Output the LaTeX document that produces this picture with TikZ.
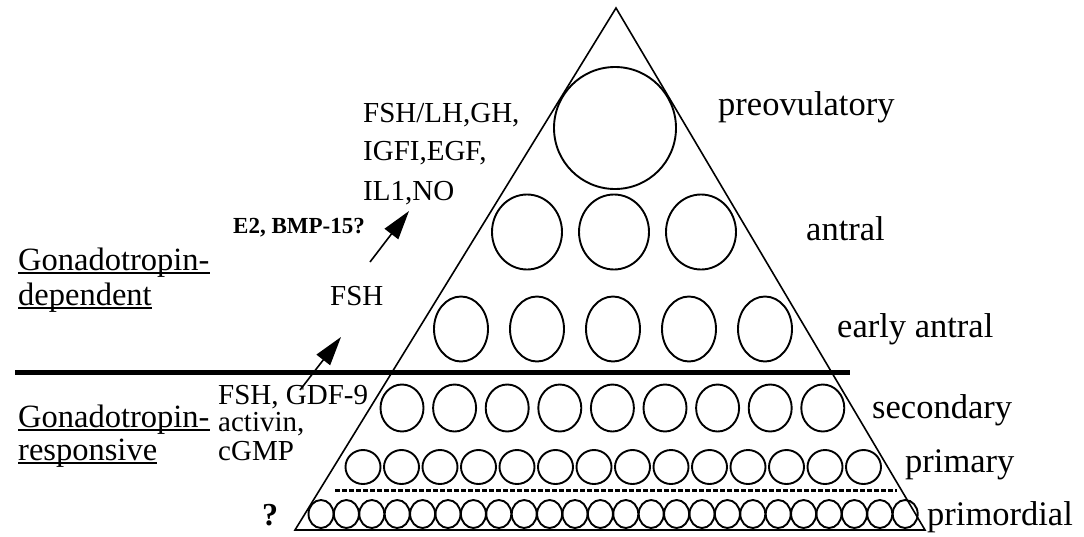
\documentclass[tikz,border=0pt]{standalone}
\usepackage{fontspec}
\setmainfont{Liberation Serif}
\usetikzlibrary{arrows.meta}

\begin{document}
\begin{tikzpicture}[x=1pt,y=-1pt,
  follicle/.style={draw, line width=1.9pt},
  stage/.style={anchor=base west, inner sep=0pt, font=\fontsize{34.5}{37}\selectfont},
  factor/.style={anchor=base west, inner sep=0pt, font=\fontsize{29}{32}\selectfont},
  phase/.style={anchor=base west, inner sep=0pt, font=\fontsize{32.5}{35}\selectfont},
  uline/.style={line width=1.4pt},
  signal/.style={-{Triangle[length=29pt,width=17pt]}, line width=1.6pt}]
\useasboundingbox (0,0) rectangle (1084,536);

\draw[line width=1.6pt] (616,8) -- (295,530) -- (925,530) -- cycle;
\draw[line width=5pt] (15,372) -- (850,372);
\draw[line width=3pt, dash pattern=on 5pt off 2pt] (335,490) -- (897,490);

\draw[follicle] (615,128) circle [radius=61];
\foreach \i in {0,1,2}
  \draw[follicle] ({527+87*\i},232) ellipse [x radius=35, y radius=37.5];
\foreach \i in {0,...,4}
  \draw[follicle] ({461+76*\i},329) ellipse [x radius=27, y radius=32.5];
\foreach \i in {0,...,8}
  \draw[follicle] ({402+52.6*\i},408) ellipse [x radius=21.5, y radius=23.5];
\foreach \i in {0,...,13}
  \draw[follicle] ({363+38.5*\i},467) ellipse [x radius=17.5, y radius=17];
\foreach \i in {0,...,23}
  \draw[follicle] ({321+25.4*\i},514) ellipse [x radius=12.5, y radius=14];

\node[stage] (preov) at (718,115) {preovulatory};
\node[stage] (antral) at (806,240) {antral};
\node[stage] (early) at (837,337) {early antral};
\node[stage] (second) at (872,418) {secondary};
\node[stage] (prim) at (905,472) {primary};
\node[stage] (primord) at (927,525) {primordial};

\node[phase] (dep1) at (18,270) {Gonadotropin-};
\node[phase] (dep2) at (18,305) {dependent};
\node[phase] (res1) at (18,427) {Gonadotropin-};
\node[phase] (res2) at (18,460) {responsive};
\draw[uline] ([yshift=-3pt]dep1.base west) -- ([yshift=-3pt]dep1.base east);
\draw[uline] ([yshift=-3pt]dep2.base west) -- ([yshift=-3pt]dep2.base east);
\draw[uline] ([yshift=-3pt]res1.base west) -- ([yshift=-3pt]res1.base east);
\draw[uline] ([yshift=-3pt]res2.base west) -- ([yshift=-3pt]res2.base east);

\node[factor] (lh) at (363,122) {FSH/LH,GH,};
\node[factor] (igf) at (363,160) {IGFI,EGF,};
\node[factor] (il) at (363,200) {IL1,NO};
\node[anchor=base west, inner sep=0pt, font=\bfseries\fontsize{23}{26}\selectfont] (bmp) at (233,233) {E2, BMP-15?};
\node[factor] (fsh) at (330,305) {FSH};
\node[factor] (gdf) at (218,404) {FSH, GDF-9};
\node[factor] (act) at (218,431) {activin,};
\node[factor] (cgmp) at (218,460) {cGMP};
\node[anchor=base west, inner sep=0pt, font=\bfseries\fontsize{32}{34}\selectfont] (unk) at (262,525) {?};

\coordinate (s1) at (300,390);
\coordinate (t1) at (341,337);
\coordinate (s2) at (370,262);
\coordinate (t2) at (409,211);
\draw[signal] (s1) -- (t1);
\draw[signal] (s2) -- (t2);
\end{tikzpicture}
\end{document}
